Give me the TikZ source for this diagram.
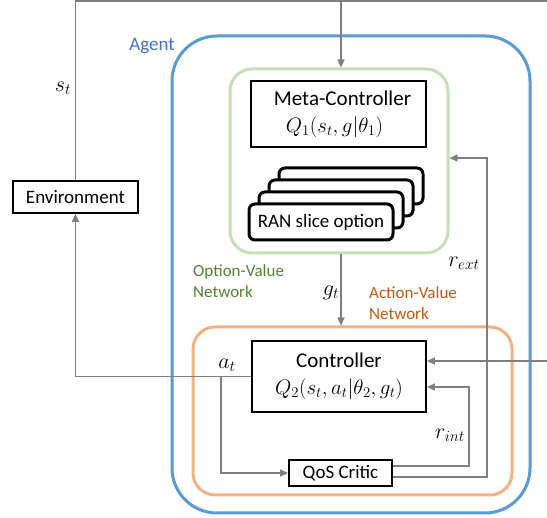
\RequirePackage{fix-cm}
\documentclass[tikz,border=0pt]{standalone}
\usepackage{fontspec}
\setmainfont{Carlito}
\usetikzlibrary{arrows.meta}

\definecolor{conngray}{HTML}{7F7F7F}
\definecolor{agentblue}{HTML}{5B9BD5}
\definecolor{agenttext}{HTML}{4472C4}
\definecolor{optgreen}{HTML}{C5E0B4}
\definecolor{opttext}{HTML}{548235}
\definecolor{actorange}{HTML}{F4B183}
\definecolor{acttext}{HTML}{C55A11}

\newcommand\dfont{\fontsize{19}{23}\selectfont}
\newcommand\bfont{\fontsize{21}{25}\selectfont}
\newcommand\mfont{\fontsize{22}{26}\selectfont}
\newcommand\sfont{\fontsize{17}{21}\selectfont}

\tikzset{
  box/.style={draw=black, line width=1.8pt, fill=white, inner sep=0pt, align=center, font=\dfont},
  ranbox/.style={draw=black, line width=3pt, fill=white, rounded corners=6pt, inner sep=0pt,
    minimum width=144pt, minimum height=36pt, font=\dfont},
  region/.style={line width=3pt, inner sep=0pt},
  conn/.style={draw=conngray, line width=1.5pt},
  arr/.style={conn, -{Triangle[length=8pt,width=7pt]}},
  lab/.style={inner sep=0pt, font=\dfont},
  mlab/.style={inner sep=0pt, font=\mfont},
  grouplab/.style={inner sep=0pt, anchor=west, align=left, font=\sfont}
}

\begin{document}
\begin{tikzpicture}[x=1pt,y=-1pt]
\useasboundingbox (0,0) rectangle (547,518);
\fill[white] (0,0) rectangle (547,518);

% grouping regions
\node[region, draw=agentblue, rounded corners=45pt, minimum width=358pt, minimum height=477pt] (agent) at (351,274.5) {};
\node[region, draw=optgreen, rounded corners=22pt, minimum width=218pt, minimum height=184pt] (optnet) at (339,161) {};
\node[region, draw=actorange, rounded corners=22pt, minimum width=319pt, minimum height=168pt] (actnet) at (352.5,411) {};

% blocks
\node[box, font=\bfont, minimum width=175pt, minimum height=66pt] (meta) at (338.5,114)
  {\hspace*{8pt}Meta-Controller\\[2pt]$Q_1(s_t,g|\theta_1)$\hspace*{8pt}};
\foreach \k/\nm in {3/ran3,2/ran2,1/ran1}
  \node[ranbox] (\nm) at (321+10*\k, 222-12*\k) {};
\node[ranbox] (ran0) at (321,222) {RAN slice option};
\node[box, font=\bfont, minimum width=174pt, minimum height=71pt] (ctrl) at (339,376.5)
  {Controller\\[2pt]$Q_2(s_t,a_t|\theta_2,g_t)$};
\node[box, minimum width=125pt, minimum height=32pt] (env) at (75.5,197) {Environment};
\node[box, minimum width=103pt, minimum height=26pt] (qos) at (340.5,473) {QoS Critic};

% connector bends and free ends
\coordinate (tl) at (75.5,1);
\coordinate (tr) at (547,1);
\coordinate (sdrop) at (341,1);
\coordinate (rin) at (547,361);
\coordinate (rext) at (487,158);
\coordinate (rint) at (469,387);
\coordinate (abr) at (221,376.5);

% connectors
\draw[conn] (env.north) -- (tl) -- (tr);
\draw[arr] (sdrop) -- (sdrop |- optnet.north);
\draw[arr] (sdrop |- optnet.south) -- (sdrop |- actnet.north);
\draw[arr] (rin) -- (rin -| ctrl.east);
\draw[arr] (ctrl.west) -| (env.south);
\draw[arr] (abr) |- (qos.west);
\draw[arr] ([yshift=7pt]qos.east) -| (rint) -- (rint -| ctrl.east);
\draw[arr] ([yshift=-4pt]qos.east) -| (rext) -- (rext -| optnet.east);

% labels
\node[mlab] (st) at (63,88) {$s_t$};
\node[mlab] (gt) at (331,293) {$g_t$};
\node[mlab] (rextl) at (464,263) {$r_{ext}$};
\node[mlab] (atl) at (227,365) {$a_t$};
\node[mlab] (rintl) at (450,435) {$r_{int}$};
\node[lab, text=agenttext] (agentl) at (152,46) {Agent};
\node[grouplab, text=opttext] (optl) at (193,281) {Option-Value\\Network};
\node[grouplab, text=acttext] (actl) at (369,303) {Action-Value\\Network};
\end{tikzpicture}
\end{document}
